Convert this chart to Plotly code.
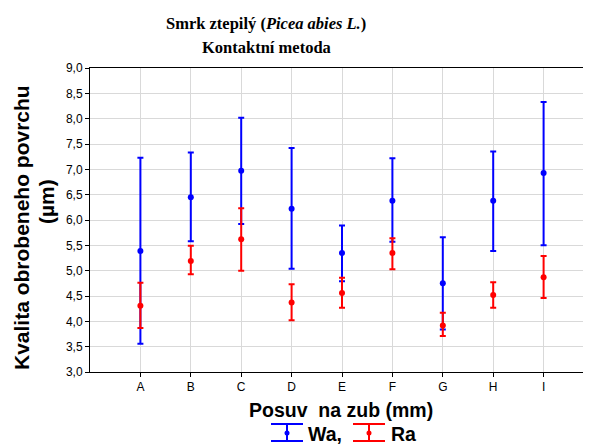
import plotly.graph_objects as go

categories = ["A", "B", "C", "D", "E", "F", "G", "H", "I"]
wa_mean = [5.39, 6.45, 6.97, 6.22, 5.35, 6.38, 4.75, 6.38, 6.93]
wa_upper = [7.23, 7.33, 8.02, 7.42, 5.89, 7.22, 5.66, 7.35, 8.33]
wa_lower = [3.56, 5.58, 5.92, 5.04, 4.79, 5.57, 3.84, 5.39, 5.50]
ra_mean = [4.31, 5.19, 5.62, 4.37, 4.56, 5.35, 3.92, 4.52, 4.87]
ra_upper = [4.76, 5.49, 6.23, 4.73, 4.86, 5.64, 4.17, 4.77, 5.29]
ra_lower = [3.87, 4.93, 5.00, 4.02, 4.27, 5.03, 3.71, 4.27, 4.46]
y_ticks = [3.0, 3.5, 4.0, 4.5, 5.0, 5.5, 6.0, 6.5, 7.0, 7.5, 8.0, 8.5, 9.0]

OFF = 8  # default page body margin
PAGE_W, PAGE_H = 591, 445
W, H = PAGE_W - OFF, PAGE_H - OFF
# plot area in page pixels
PL, PT, PB, PR = 90, 68, 372, 591
pw, ph = PR - PL, PB - PT

def px(x):
    return (x - PL) / pw

def py(y):
    return (PB - y) / ph

fig = go.Figure()

def add_series(name, mean, upper, lower, color):
    fig.add_trace(go.Scatter(
        x=list(range(len(categories))), y=mean, mode="markers", name=name,
        marker=dict(color=color, size=6),
        error_y=dict(type="data", symmetric=False,
                     array=[u - m for u, m in zip(upper, mean)],
                     arrayminus=[m - l for m, l in zip(mean, lower)],
                     color=color, thickness=2, width=3),
        showlegend=False,
    ))

add_series("Wa", wa_mean, wa_upper, wa_lower, "#0000FF")
add_series("Ra", ra_mean, ra_upper, ra_lower, "#FF0000")

SANS = "Liberation Sans, Arial"
SERIF = "Liberation Serif, Times New Roman"

shapes = []
annotations = []
for cx, color, label, tx in [(287, "#0000FF", "Wa,", 306), (369, "#FF0000", "Ra", 389)]:
    y1, y2, yc = 424, 441, 433
    for yy in (y1, y2):
        shapes.append(dict(type="line", xref="paper", yref="paper", x0=px(cx - 16), x1=px(cx + 16),
                           y0=py(yy), y1=py(yy), line=dict(color=color, width=2)))
    shapes.append(dict(type="line", xref="paper", yref="paper", x0=px(cx), x1=px(cx),
                       y0=py(y1), y1=py(y2), line=dict(color=color, width=2)))
    shapes.append(dict(type="circle", xref="paper", yref="paper", x0=px(cx - 2.5), x1=px(cx + 2.5),
                       y0=py(yc - 2.5), y1=py(yc + 2.5), fillcolor=color, line=dict(color=color, width=0)))
    annotations.append(dict(text=f"<b>{label}</b>", xref="paper", yref="paper", x=px(tx), y=py(yc + 1),
                            xanchor="left", yanchor="middle", showarrow=False,
                            font=dict(family=SANS, size=19.5, color="black")))

annotations.append(dict(text="<b>Smrk ztepilý (<i>Picea abies L.</i>)</b>", xref="paper", yref="paper",
                        x=px(266), y=py(23), xanchor="center", yanchor="middle", showarrow=False,
                        font=dict(family=SERIF, size=16.5, color="black")))
annotations.append(dict(text="<b>Kontaktní metoda</b>", xref="paper", yref="paper",
                        x=px(266), y=py(47), xanchor="center", yanchor="middle", showarrow=False,
                        font=dict(family=SERIF, size=16.5, color="black")))
annotations.append(dict(text="<b>Posuv&nbsp; na zub (mm)</b>", xref="paper", yref="paper",
                        x=px(341), y=py(410), xanchor="center", yanchor="middle", showarrow=False,
                        font=dict(family=SANS, size=19.5, color="black")))
annotations.append(dict(text="<b>Kvalita obrobeneho povrchu</b>", xref="paper", yref="paper",
                        x=px(21), y=py(228), xanchor="center", yanchor="middle", showarrow=False,
                        textangle=-90, font=dict(family=SANS, size=21, color="black")))
annotations.append(dict(text="<b>(µm)</b>", xref="paper", yref="paper",
                        x=px(46), y=py(202), xanchor="center", yanchor="middle", showarrow=False,
                        textangle=-90, font=dict(family=SANS, size=21, color="black")))

fig.update_layout(
    width=W, height=H,
    margin=dict(l=PL - OFF, r=0, t=PT - OFF, b=H - (PB - OFF)),
    paper_bgcolor="white", plot_bgcolor="white",
    shapes=shapes, annotations=annotations,
    font=dict(family=SANS, size=12, color="black"),
    xaxis=dict(range=[-1, -1 + pw / 50.4], tickmode="array", tickvals=list(range(len(categories))),
               ticktext=categories, showgrid=True, gridcolor="#d9d9d9", gridwidth=1,
               showline=True, linecolor="black", linewidth=1, mirror=True,
               ticks="outside", ticklen=4, tickcolor="black", zeroline=False,
               tickfont=dict(size=12)),
    yaxis=dict(range=[3.0, 9.0], tickmode="array", tickvals=y_ticks,
               ticktext=[f"{v:.1f}".replace(".", ",") for v in y_ticks],
               showgrid=True, gridcolor="#d9d9d9", gridwidth=1,
               showline=True, linecolor="black", linewidth=1, mirror=True,
               ticks="outside", ticklen=4, tickcolor="black", zeroline=False,
               tickfont=dict(size=12)),
)

fig.write_html("out.html")
